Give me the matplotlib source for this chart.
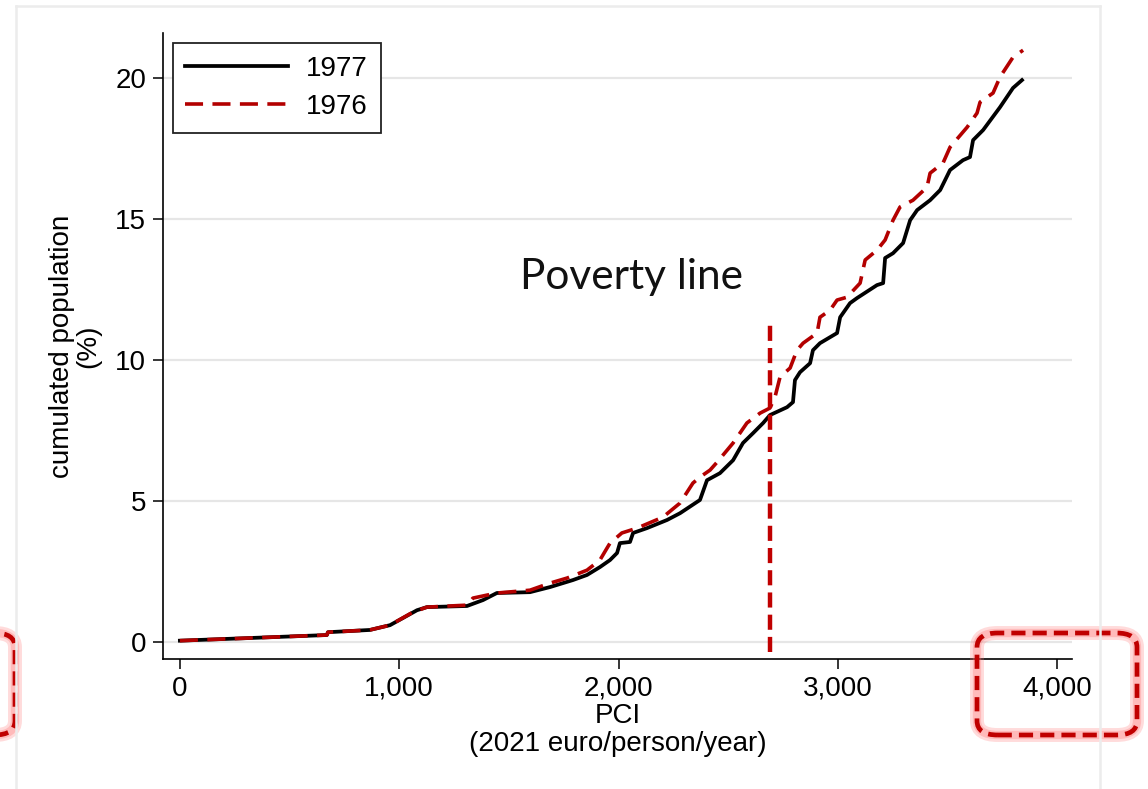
import matplotlib
matplotlib.use('Agg')
import matplotlib.pyplot as plt
from matplotlib.patches import FancyBboxPatch
from matplotlib.lines import Line2D
from matplotlib.ticker import FuncFormatter

plt.rcParams['font.family'] = ['Liberation Sans', 'DejaVu Sans']

# cumulated population curves
pci_1977 = [0, 306, 670, 675, 866, 958, 1081, 1126, 1309, 1382, 1445, 1596, 1687, 1792,
            1856, 1915, 1961, 1993, 2006, 2052, 2066, 2129, 2221, 2280, 2371, 2403, 2462,
            2522, 2567, 2613, 2659, 2690, 2768, 2795, 2804, 2827, 2873, 2886, 2918, 2996,
            3010, 3055, 3087, 3178, 3206, 3215, 3251, 3297, 3329, 3361, 3420, 3466, 3511,
            3570, 3602, 3616, 3662, 3739, 3798, 3839]
pop_1977 = [0.05, 0.14, 0.25, 0.35, 0.43, 0.60, 1.13, 1.24, 1.28, 1.49, 1.74, 1.77, 1.95, 2.20,
            2.38, 2.66, 2.91, 3.16, 3.51, 3.55, 3.87, 4.04, 4.33, 4.57, 5.04, 5.74, 5.99,
            6.45, 7.06, 7.41, 7.77, 8.05, 8.33, 8.51, 9.29, 9.57, 9.89, 10.35, 10.60, 10.96,
            11.52, 12.02, 12.20, 12.66, 12.73, 13.62, 13.79, 14.15, 14.96, 15.32, 15.67, 16.03, 16.74,
            17.09, 17.20, 17.80, 18.16, 18.97, 19.65, 19.93]

pci_1976 = [0, 306, 670, 675, 866, 958, 1062, 1126, 1309, 1336, 1445, 1596, 1687, 1765,
            1856, 1915, 1947, 1961, 2015, 2084, 2202, 2280, 2339, 2371, 2417, 2449, 2522,
            2585, 2645, 2690, 2713, 2736, 2782, 2813, 2841, 2905, 2918, 2964, 2996, 3041,
            3101, 3124, 3178, 3215, 3251, 3283, 3342, 3406, 3420, 3479, 3511, 3589, 3634,
            3648, 3707, 3739, 3798, 3844]
pop_1976 = [0.05, 0.14, 0.25, 0.35, 0.43, 0.60, 1.06, 1.24, 1.31, 1.56, 1.74, 1.84, 2.09, 2.27,
            2.55, 2.91, 3.33, 3.51, 3.87, 4.04, 4.43, 4.93, 5.64, 5.85, 6.10, 6.38, 7.06,
            7.77, 8.12, 8.30, 8.69, 9.40, 9.72, 10.35, 10.60, 10.96, 11.52, 11.77, 12.13, 12.23,
            12.73, 13.55, 13.90, 14.26, 14.96, 15.43, 15.67, 16.13, 16.63, 16.99, 17.55, 18.26, 18.76,
            19.15, 19.47, 20.04, 20.74, 20.99]

poverty_pci = 2690
poverty_span = [-0.35, 11.4]
x_ticks = [0, 1000, 2000, 3000, 4000]
y_ticks = [0, 5, 10, 15, 20]

W, H = 1148, 789
fig = plt.figure(figsize=(W / 100, H / 100), dpi=100)
ax = fig.add_axes([163 / W, 1 - 659 / H, (1072 - 163) / W, (659 - 33) / H])

red = '#b30000'
ax.plot(pci_1977, pop_1977, color='black', lw=2.7, label='1977', zorder=3)
ax.plot(pci_1976, pop_1976, color=red, lw=2.6, ls=(0, (5, 2.6)), label='1976', zorder=4)
ax.plot([poverty_pci, poverty_pci], poverty_span, color='#c00000', lw=3.2,
        ls=(0, (3.4, 1.6)), zorder=5)
ax.text(2057, 12.95, 'Poverty line', fontsize=30.5, family=['Lato', 'DejaVu Sans'],
        ha='center', va='center', color='#111111')

ax.set_xlim(-77, 4067)
ax.set_ylim(-0.6, 21.6)
ax.set_xticks(x_ticks)
ax.set_yticks(y_ticks)
ax.xaxis.set_major_formatter(FuncFormatter(lambda v, p: f'{int(v):,}'))
ax.tick_params(axis='both', labelsize=20, length=7, width=1.1, direction='out', pad=5)
ax.yaxis.grid(True, color='#e6e6e6', lw=1.6)
ax.set_axisbelow(True)
for s in ['top', 'right']:
    ax.spines[s].set_visible(False)
for s in ['left', 'bottom']:
    ax.spines[s].set_linewidth(1.2)

ax.set_xlabel('PCI\n(2021 euro/person/year)', fontsize=20, labelpad=1, linespacing=1.12)
ax.set_ylabel('cumulated population\n(%)', fontsize=20, labelpad=10, linespacing=1.0)

leg = ax.legend(loc='upper left', bbox_to_anchor=(0.011, 0.984), borderaxespad=0,
                fontsize=20, handlelength=3.7, handletextpad=0.65, fancybox=False,
                framealpha=1, edgecolor='#222222', borderpad=0.45, labelspacing=0.45)
leg.get_frame().set_linewidth(1.3)

# slide frame
frame_c = '#ececec'
fig.add_artist(Line2D([16 / W, 16 / W], [0, 1 - 6 / H], color=frame_c, lw=1.8))
fig.add_artist(Line2D([1100 / W, 1100 / W], [0, 1 - 6 / H], color=frame_c, lw=1.8))
fig.add_artist(Line2D([16 / W, 1100 / W], [1 - 6 / H, 1 - 6 / H], color=frame_c, lw=1.8))

# highlight boxes
for x0, x1 in [(-40, 15), (977, 1137)]:
    y0, y1 = 633, 735
    for lw, c, ls, a in [(10, '#ff7070', '-', 0.25), (6, '#ff7070', '-', 0.3),
                         (3.4, '#c00000', (0, (3, 1.5)), 1)]:
        p = FancyBboxPatch((x0 / W, 1 - y1 / H), (x1 - x0) / W, (y1 - y0) / H,
                           boxstyle='round,pad=0,rounding_size=0.018',
                           transform=fig.transFigure, fill=False, lw=lw,
                           edgecolor=c, ls=ls, alpha=a, clip_on=False)
        fig.add_artist(p)

fig.savefig('out.png', dpi=100)
